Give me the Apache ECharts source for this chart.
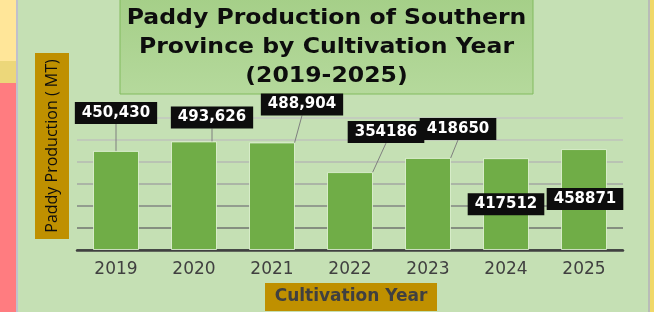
<!DOCTYPE html>
<html>
<head>
<meta charset="utf-8">
<script src="https://cdn.jsdelivr.net/npm/echarts@6/dist/echarts.min.js"></script>
<style>
  html, body { margin: 0; padding: 0; background: #c5e0b4; }
  #chart { width: 654px; height: 312px; }
</style>
</head>
<body>
<div id="chart"></div>
<script>
// 数据
const years = ["2019", "2020", "2021", "2022", "2023", "2024", "2025"];
const production = [450430, 493626, 488904, 354186, 418650, 417512, 458871];
// 哪些标签带千分位逗号（原图如此）
const useComma = [true, true, true, false, false, false, false];
const titleLines = ["Paddy Production of Southern", "Province by Cultivation Year", "(2019-2025)"];

// 标签相对柱顶中心的偏移
const labelShift = [[0, -38], [18, -24], [30, -38], [36, -40], [30, -29], [0, 46], [1, 50]];
const hasLeader = [true, true, true, true, true, false, false];

let chart = echarts.init(document.getElementById("chart"), null, { renderer: "canvas" });

const axisNameBox = "#bf9000";

chart.setOption({
    backgroundColor: "#c5e0b4",
    animation: false,
    grid: { left: 77, right: 31, top: 118, bottom: 62 },
    xAxis: {
        type: "category",
        data: years,
        axisTick: { show: false },
        axisLine: { lineStyle: { color: "#404040", width: 2.5 } },
        axisLabel: {
            color: "#404040",
            fontSize: 17,
            fontFamily: "DejaVu Sans",
            margin: 11
        }
    },
    yAxis: {
        type: "value",
        min: 0,
        max: 600000,
        interval: 100000,
        axisLabel: { show: false },
        axisLine: { show: false },
        axisTick: { show: false },
        splitLine: {
            lineStyle: {
                width: 2,
                color: ["#5f6b5c", "#858f80", "#939d8f", "#abb5a6", "#b9c3b3", "#c0cab9", "#c3cdbd"]
            }
        }
    },
    series: [{
        type: "bar",
        barWidth: 46,
        itemStyle: {
            color: "#70ad47",
            borderColor: "rgba(230,245,220,0.8)",
            borderWidth: 1
        },
        data: production.map((v, i) => ({
            value: v,
            labelLine: { show: hasLeader[i] }
        })),
        label: {
            show: true,
            position: "top",
            formatter: function (p) {
                return useComma[p.dataIndex] ? p.value.toLocaleString("en-US") : String(p.value);
            },
            color: "#ffffff",
            fontWeight: "bold",
            fontSize: 15,
            fontFamily: "DejaVu Sans",
            backgroundColor: "#0d0d0d",
            padding: [4, 7, 3, 7]
        },
        labelLine: {
            show: true,
            lineStyle: { color: "#7f7f7f", width: 1 }
        },
        labelLayout: function (p) {
            let s = labelShift[p.dataIndex];
            let cx = p.rect.x + p.rect.width / 2;
            let top = p.rect.y;
            let lx = cx + s[0];
            let ly = top + s[1];
            let h = p.labelRect.height;
            let res = { x: lx, y: ly, align: "center", verticalAlign: "middle" };
            if (hasLeader[p.dataIndex]) {
                let by = ly + h / 2;
                res.labelLinePoints = [[cx, top], [(cx + lx) / 2, (top + by) / 2], [lx, by]];
            }
            return res;
        }
    }],
    graphic: [
        // 左侧条带
        { type: "rect", shape: { x: 0, y: 0, width: 16, height: 61 }, style: { fill: "#ffe699" }, silent: true },
        { type: "rect", shape: { x: 0, y: 61, width: 16, height: 22 }, style: { fill: "#ecd77a" }, silent: true },
        { type: "rect", shape: { x: 0, y: 83, width: 16, height: 229 }, style: { fill: "#ff7c80" }, silent: true },
        { type: "rect", shape: { x: 16, y: 0, width: 2, height: 312 }, style: { fill: "#c0c0cc" }, silent: true },
        // 右侧条带
        { type: "rect", shape: { x: 648, y: 0, width: 2, height: 312 }, style: { fill: "#b8bcb8" }, silent: true },
        { type: "rect", shape: { x: 650, y: 0, width: 4, height: 312 }, style: { fill: "#f0d868" }, silent: true },
        // 标题框
        {
            type: "rect",
            shape: { x: 120, y: -2, width: 413, height: 96 },
            style: {
                fill: new echarts.graphic.LinearGradient(0, 0, 0, 1, [
                    { offset: 0, color: "#a5cf88" },
                    { offset: 1, color: "#b5d99c" }
                ]),
                stroke: "#82bb5f",
                lineWidth: 1
            },
            silent: true
        },
        ...titleLines.map((t, i) => ({
            type: "text",
            x: 326.5,
            y: 18 + i * 29,
            scaleX: 1.07,
            style: {
                text: t,
                fill: "#0d0d0d",
                font: "bold 22px 'DejaVu Sans'",
                align: "center",
                verticalAlign: "middle"
            },
            silent: true
        })),
        // y轴名称
        { type: "rect", shape: { x: 35, y: 53, width: 34, height: 186 }, style: { fill: axisNameBox }, silent: true },
        {
            type: "text",
            x: 52,
            y: 146,
            rotation: Math.PI / 2,
            style: {
                text: "Paddy Production ( MT)",
                fill: "#0d0d0d",
                font: "16px 'Open Sans'",
                align: "center",
                verticalAlign: "middle"
            },
            silent: true
        },
        // x轴名称
        { type: "rect", shape: { x: 265, y: 283, width: 172, height: 28 }, style: { fill: axisNameBox }, silent: true },
        {
            type: "text",
            x: 351,
            y: 297,
            style: {
                text: "Cultivation Year",
                fill: "#404040",
                font: "bold 17px 'DejaVu Sans'",
                align: "center",
                verticalAlign: "middle"
            },
            silent: true
        }
    ]
});

window.addEventListener("resize", function () {
    chart.resize();
});
</script>
</body>
</html>
